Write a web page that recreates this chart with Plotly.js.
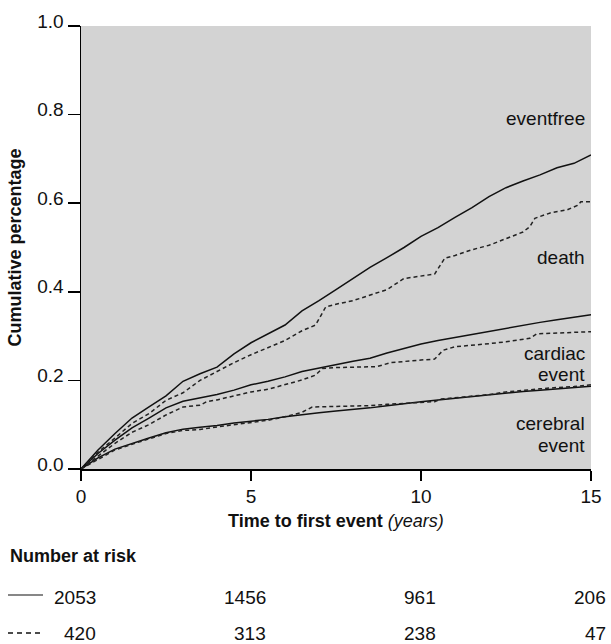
<!DOCTYPE html>
<html>
<head>
<meta charset="utf-8">
<script src="https://cdn.plot.ly/plotly-3.0.1.min.js"></script>
<style>html,body{margin:0;padding:0;background:#fff;}#chart{width:611px;height:644px;}</style>
</head>
<body>
<div id="chart"></div>
<script>
// ---- Data ----
// Solid group: cumulative (cerebral + cardiac + death)
const solidTotalT = [0,0.5,1,1.5,2,2.5,3,3.5,4,4.5,5,5.5,6,6.5,7,7.5,8,8.5,9,9.5,10,10.5,11,11.5,12,12.5,13,13.5,14,14.5,15];
const solidTotalV = [0,0.043,0.08,0.115,0.14,0.165,0.198,0.215,0.23,0.26,0.285,0.305,0.325,0.357,0.38,0.405,0.43,0.455,0.477,0.5,0.525,0.545,0.568,0.59,0.615,0.635,0.65,0.664,0.68,0.69,0.709];
// Solid group: cumulative (cerebral + cardiac)
const solidCardT = [0,0.5,1,1.5,2,2.5,3,3.5,4,4.5,5,5.5,6,6.5,7,7.5,8,8.5,9,9.5,10,10.5,11,11.5,12,12.5,13,13.5,14,14.5,15];
const solidCardV = [0,0.035,0.065,0.093,0.115,0.138,0.153,0.16,0.168,0.178,0.19,0.198,0.208,0.22,0.228,0.236,0.243,0.25,0.262,0.272,0.282,0.29,0.297,0.304,0.31,0.318,0.325,0.331,0.337,0.342,0.348];
// Solid group: cerebral
const solidCereT = [0,0.5,1,1.5,2,2.5,3,3.5,4,4.5,5,5.5,6,6.5,7,7.5,8,8.5,9,9.5,10,10.5,11,11.5,12,12.5,13,13.5,14,14.5,15];
const solidCereV = [0,0.025,0.045,0.058,0.07,0.082,0.09,0.094,0.098,0.104,0.108,0.112,0.118,0.123,0.127,0.131,0.134,0.138,0.143,0.148,0.152,0.156,0.16,0.164,0.167,0.171,0.175,0.178,0.181,0.184,0.187];

// Dashed group
const dashTotalT = [0,0.5,1,1.5,2,2.5,3,3.5,4,4.5,5,5.5,6,6.5,6.9,7.2,7.5,8,8.5,9,9.5,10,10.4,10.7,11,11.5,12,12.5,13,13.2,13.35,13.8,14.3,14.6,14.7,15];
const dashTotalV = [0,0.038,0.07,0.103,0.125,0.155,0.172,0.2,0.22,0.24,0.258,0.274,0.29,0.312,0.325,0.366,0.372,0.38,0.392,0.405,0.43,0.435,0.44,0.476,0.482,0.495,0.505,0.52,0.535,0.547,0.566,0.578,0.585,0.595,0.603,0.603];
const dashCardT = [0,0.5,1,1.5,2,2.5,3,3.5,3.7,4,4.5,5,5.5,6,6.5,6.9,7.1,7.5,8,8.7,9.1,9.5,10,10.4,10.65,11,11.5,12,12.5,13,13.2,13.4,14,15];
const dashCardV = [0,0.03,0.058,0.083,0.1,0.122,0.14,0.144,0.152,0.156,0.165,0.174,0.18,0.19,0.201,0.212,0.227,0.229,0.23,0.231,0.24,0.243,0.246,0.248,0.268,0.276,0.279,0.283,0.287,0.292,0.295,0.305,0.307,0.31];
const dashCereT = [0,0.5,1,1.5,2,2.5,3,3.5,4,4.5,5,5.5,6,6.5,6.8,7.5,8,8.5,9,9.5,10,10.4,10.6,11,11.5,12,12.5,13,13.5,14,14.5,15];
const dashCereV = [0,0.022,0.043,0.056,0.068,0.08,0.087,0.089,0.095,0.1,0.105,0.11,0.118,0.128,0.14,0.141,0.141,0.143,0.146,0.148,0.15,0.152,0.158,0.161,0.165,0.168,0.174,0.178,0.181,0.184,0.186,0.19];

// Axis ticks
const xTicks = [0,5,10,15];
const yTicks = [0,0.2,0.4,0.6,0.8,1.0];
const yTickText = ["0.0","0.2","0.4","0.6","0.8","1.0"];

// Number at risk
const riskTimes = [0,5,10,15];
const riskSolid = [2053,1456,961,206];
const riskDashed = [420,313,238,47];

// Region label lines
const regionLabels = ["eventfree","death","cardiac","event","cerebral","event"];

// ---- Chart ----
const FONT = "Liberation Sans, Arial, sans-serif";
const INK = "#111111";
const solidLine = {color: INK, width: 1.5};
const dashLine = {color: "#222222", width: 1.5, dash: "4px,3px"};

function tr(x, y, line) {
  return {x: x, y: y, type: "scatter", mode: "lines", line: line, hoverinfo: "skip", showlegend: false};
}
const data = [
  tr(solidTotalT, solidTotalV, solidLine),
  tr(solidCardT, solidCardV, solidLine),
  tr(solidCereT, solidCereV, solidLine),
  tr(dashTotalT, dashTotalV, dashLine),
  tr(dashCardT, dashCardV, dashLine),
  tr(dashCereT, dashCereV, dashLine)
];

const pxY = p => (469 - p) / 443;   // pixel row -> paper y
const pxX = p => (p - 81) / 510;    // pixel col -> paper x

const labelRows = [118, 257, 353, 374, 423, 445];
const annotations = [];
regionLabels.forEach((t, i) => annotations.push({
  text: t, xref: "paper", yref: "paper", x: pxX(587), y: pxY(labelRows[i]),
  xanchor: "right", yanchor: "middle", align: "right", showarrow: false,
  font: {family: FONT, size: 19, color: INK}
}));
annotations.push({
  text: "<b>Cumulative percentage</b>", xref: "paper", yref: "paper",
  x: pxX(14), y: 0.5, textangle: -90, xanchor: "center", yanchor: "middle",
  showarrow: false, font: {family: FONT, size: 18, color: INK}
});
annotations.push({
  text: "<b>Time to first event</b> <i>(years)</i>", xref: "paper", yref: "paper",
  x: 0.5, y: pxY(521), xanchor: "center", yanchor: "middle",
  showarrow: false, font: {family: FONT, size: 18, color: INK}
});
annotations.push({
  text: "<b>Number at risk</b>", xref: "paper", yref: "paper",
  x: pxX(8), y: pxY(556), xanchor: "left", yanchor: "middle",
  showarrow: false, font: {family: FONT, size: 18, color: INK}
});
riskTimes.forEach((t, i) => {
  annotations.push({
    text: String(riskSolid[i]), xref: "x", yref: "paper", x: t, xshift: 17, y: pxY(597),
    xanchor: "right", yanchor: "middle", showarrow: false,
    font: {family: FONT, size: 19, color: INK}
  });
  annotations.push({
    text: String(riskDashed[i]), xref: "x", yref: "paper", x: t, xshift: 17, y: pxY(633),
    xanchor: "right", yanchor: "middle", showarrow: false,
    font: {family: FONT, size: 19, color: INK}
  });
});

const shapes = [
  {type: "line", xref: "paper", yref: "paper", x0: pxX(8), x1: pxX(43), y0: pxY(595), y1: pxY(595),
   line: {color: INK, width: 1.2}},
  {type: "line", xref: "paper", yref: "paper", x0: pxX(8), x1: pxX(43), y0: pxY(633), y1: pxY(633),
   line: {color: INK, width: 1.5, dash: "5px,4px"}}
];

const layout = {
  width: 611, height: 644,
  margin: {l: 81, r: 20, t: 26, b: 175},
  paper_bgcolor: "#ffffff",
  plot_bgcolor: "#d3d3d3",
  showlegend: false,
  font: {family: FONT, size: 19, color: INK},
  xaxis: {
    range: [0, 15], tickvals: xTicks, ticktext: xTicks.map(String),
    showgrid: false, zeroline: false, showline: true, linecolor: "#000", linewidth: 1.5,
    ticks: "outside", ticklen: 10, tickwidth: 1.5, tickcolor: "#000",
    tickfont: {family: FONT, size: 19, color: INK}, fixedrange: true
  },
  yaxis: {
    range: [0, 1], tickvals: yTicks, ticktext: yTickText,
    showgrid: false, zeroline: false, showline: true, linecolor: "#000", linewidth: 1.5,
    ticks: "outside", ticklen: 12, tickwidth: 1.5, tickcolor: "#000",
    ticklabelshift: -5,
    tickfont: {family: FONT, size: 19, color: INK}, fixedrange: true
  },
  annotations: annotations,
  shapes: shapes
};

Plotly.newPlot("chart", data, layout, {displayModeBar: false, staticPlot: true});
</script>
</body>
</html>
